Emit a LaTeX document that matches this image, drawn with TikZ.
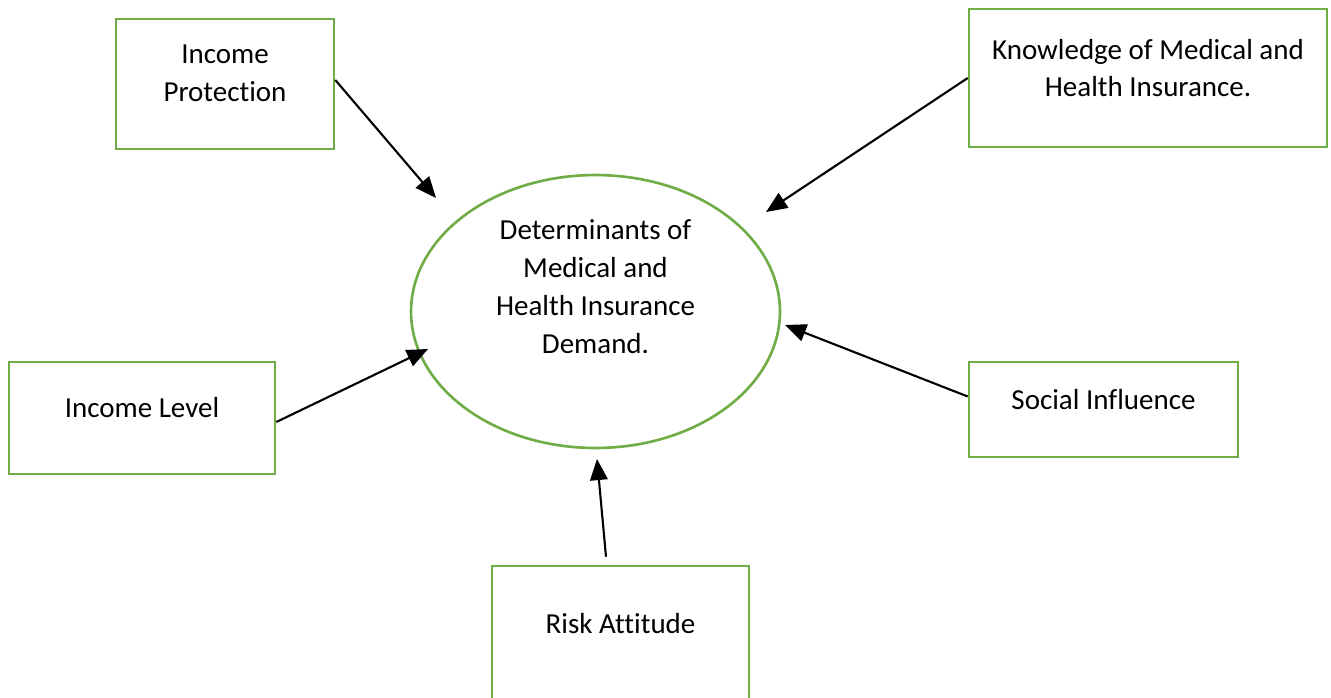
\documentclass[tikz,border=0pt]{standalone}
\usepackage{fontspec}
\setmainfont{Carlito}[Ligatures={NoCommon}]
\usetikzlibrary{shapes.geometric,arrows.meta,calc}
\definecolor{boxgreen}{HTML}{70AD47}
\tikzset{
  box/.style={draw=boxgreen,line width=1.5pt,rectangle},
  circ/.style={draw=boxgreen,line width=1.5pt,ellipse},
  lbl/.style={align=center,font=\fontsize{16.5pt}{21.5pt}\selectfont,inner sep=0pt},
  arr/.style={-{Triangle[length=12pt,width=10pt]},line width=1.2pt}
}
\begin{document}
\begin{tikzpicture}[x=0.02cm,y=-0.02cm]
    \useasboundingbox (0,0) rectangle (1331,697);

    \node[circ,minimum width=7.38cm,minimum height=5.46cm] (dem) at (595.5,311.5){};
    \node[box,minimum width=4.36cm,minimum height=2.6cm] (prot) at (225,84){};
    \node[box,minimum width=7.16cm,minimum height=2.76cm] (know) at (1148,78){};
    \node[box,minimum width=5.32cm,minimum height=2.24cm] (level) at (142,418){};
    \node[box,minimum width=5.38cm,minimum height=1.9cm] (social) at (1103.5,409.5){};
    \node[box,minimum width=5.14cm,minimum height=3.08cm] (risk) at (620.5,643){};

    \node[lbl] (demT) at ($(dem.center)+(0,-25)$){Determinants of\\Medical and\\Health Insurance\\Demand.};
    \node[lbl] (protT) at ($(prot.center)+(0,-11)$){Income\\Protection};
    \node[lbl] (knowT) at ($(know.center)+(0,-10)$){Knowledge of Medical and\\Health Insurance.};
    \node[lbl] (levelT) at ($(level.center)+(0,-10)$){Income Level};
    \node[lbl] (socialT) at ($(social.center)+(0,-10)$){Social Influence};
    \node[lbl] (riskT) at ($(risk.center)+(0,-19)$){Risk Attitude};

    \coordinate (tipProt) at (436,198);
    \coordinate (tipKnow) at (766,212);
    \coordinate (tipLevel) at (428,349);
    \coordinate (tipSocial) at (785,325);
    \coordinate (tipRisk) at (597,459);

    \draw ([shift={(0,-4)}]prot.east) edge[arr] (tipProt);
    \draw (know.west) edge[arr] (tipKnow);
    \draw ([shift={(0,4)}]level.east) edge[arr] (tipLevel);
    \draw ([shift={(0,-13)}]social.west) edge[arr] (tipSocial);
    \draw ([shift={(-14.5,-8)}]risk.north) edge[arr] (tipRisk);
  \end{tikzpicture}
\end{document}
